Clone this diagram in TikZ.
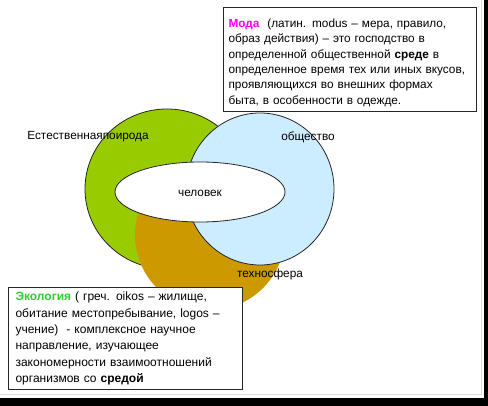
\documentclass[tikz,border=0pt]{standalone}
\usepackage{fontspec}
\setmainfont{Liberation Sans}
\definecolor{natureColor}{HTML}{99CC00}
\definecolor{technoColor}{HTML}{CC9900}
\definecolor{societyColor}{HTML}{CCECFF}
\definecolor{modaColor}{HTML}{FF00FF}
\definecolor{ecoColor}{HTML}{33CC33}
\colorlet{penColor}{black!85}
\tikzset{textbox/.style={draw=penColor,line width=1.1pt,fill=white,align=left,inner xsep=6pt,anchor=north west}}

\begin{document}
\begin{tikzpicture}[x=1pt,y=-1pt,font=\fontsize{11.8}{15.4}\selectfont]
				\useasboundingbox (0,0) rectangle (488,406);
				\fill[black] (484,0) rectangle (488,406);% frame shadow
				\fill[black] (0,398) rectangle (488,406);
				\draw[black!15] (0,394) -- (481,394) -- (481,0);
				\fill[natureColor] (167,189) ellipse (82pt and 80pt);
				\draw[penColor, thick] (167,189) ellipse (82pt and 80pt);
				\fill[technoColor] (210,235) ellipse (75pt and 75pt);
				\fill[societyColor] (260,189) ellipse (74pt and 76pt);
				\draw[penColor, thick] (260,189) ellipse (74pt and 76pt);
				\draw[penColor, thick, fill=white] (200,192) ellipse (85pt and 30pt);
				\node (man) at (200,193) {человек};
				\node (nature) at (88,137) {Естественнаяпоирода};
				\node (society) at (308,137) {общество};
				\node (techno) at (270,274) {техносфера};
				\node[textbox, inner xsep=5pt, text width=243pt, minimum height=104pt] (moda) at (223,7) {%
					\rule{0pt}{15pt}\textbf{\textcolor{modaColor}{Мода}}\ \ (латин. modus – мера, правило,\\
					образ действия) – это господство в\\
					определенной общественной \textbf{среде} в\\
					определенное время тех или иных вкусов,\\
					проявляющихся во внешних формах\\
					быта, в особенности в одежде.};
				\node[textbox, inner xsep=7pt, text width=220pt, minimum height=102pt, font=\fontsize{12}{16.3}\selectfont] (eco) at (8,287) {%
					\textbf{\textcolor{ecoColor}{Экология}} ( греч. oikos – жилище,\\
					обитание местопребывание, logos –\\
					учение)\ \ - комплексное научное\\
					направление, изучающее\\
					закономерности взаимоотношений\\
					организмов со \textbf{средой}};
\end{tikzpicture}
\end{document}
